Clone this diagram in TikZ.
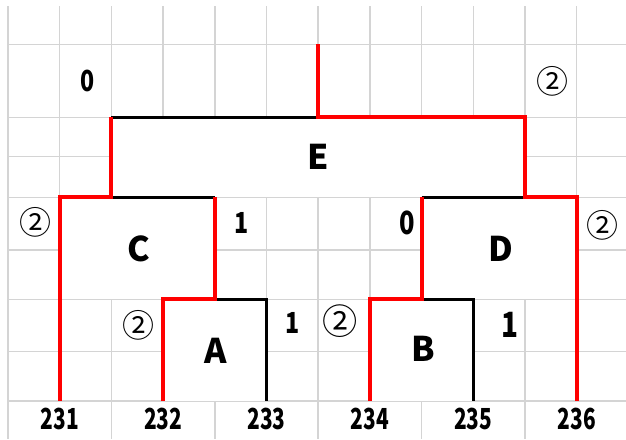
\documentclass[tikz,border=0pt]{standalone}
\usepackage{fontspec}
\setmainfont{Noto Sans CJK JP}
\usetikzlibrary{positioning,calc}
\definecolor{gridgray}{RGB}{212,212,212}
\tikzset{
  gridline/.style={draw=gridgray, line width=1.5pt},
  blank/.style={fill=white, draw=none},
  blk/.style={draw=black, line width=3.3pt, line join=miter},
  hot/.style={draw=red, line width=4pt, line join=miter},
  boxname/.style={font=\fontsize{34}{34}\selectfont\bfseries},
  cnt/.style={font=\fontsize{29}{29}\selectfont\bfseries, xscale=0.8},
  circ/.style={font=\fontsize{32}{32}\selectfont},
  leaf/.style={font=\fontsize{29}{29}\selectfont\bfseries, xscale=0.72}
}
\begin{document}
\begin{tikzpicture}[x=1pt, y=-1pt]
    \useasboundingbox (0,0) rectangle (626,439);

    \foreach \i in {0,2,...,10} \draw[gridline] ({8+51.7*\i},6) -- ({8+51.7*\i},439);
    \foreach \i in {1,3,...,11} \draw[gridline] ({8+51.7*\i},6) -- ({8+51.7*\i},401);
    \foreach \y in {44.3,117.3,156.7,197.3,250,299.3,351.7,401} \draw[gridline] (8,\y) -- (626,\y);

    \fill[blank] (111.4,117.3) rectangle (525,197.3);
    \fill[blank] (59.7,197.3) rectangle (214.8,299.3);
    \fill[blank] (421.6,197.3) rectangle (576.7,299.3);
    \fill[blank] (163.1,299.3) rectangle (266.5,401);
    \fill[blank] (369.9,299.3) rectangle (473.3,401);

    \coordinate (root) at (318.2,44.3);
    \coordinate (e) at (318.2,117.3);
    \coordinate (eL) at (111.4,117.3);
    \coordinate (eR) at (525,117.3);
    \coordinate (cL) at (59.7,197.3);
    \coordinate (cJ) at (111.4,197.3);
    \coordinate (cR) at (214.8,197.3);
    \coordinate (dL) at (421.6,197.3);
    \coordinate (dJ) at (525,197.3);
    \coordinate (dR) at (576.7,197.3);
    \coordinate (aL) at (163.1,299.3);
    \coordinate (aJ) at (214.8,299.3);
    \coordinate (aR) at (266.5,299.3);
    \coordinate (bL) at (369.9,299.3);
    \coordinate (bJ) at (421.6,299.3);
    \coordinate (bR) at (473.3,299.3);
    \coordinate (floor) at (0,401);

    \node[leaf] (l231) at (59.7,418.5) {231};
    \node[leaf] (l232) at (163.1,418.5) {232};
    \node[leaf] (l233) at (266.5,418.5) {233};
    \node[leaf] (l234) at (369.9,418.5) {234};
    \node[leaf] (l235) at (473.3,418.5) {235};
    \node[leaf] (l236) at (576.7,418.5) {236};

    \draw[blk] (eL) -- (e);
    \draw[blk] (cJ) -- (cR);
    \draw[blk] (aJ) -- (aR) -- (l233 |- floor);
    \draw[blk] (dL) -- (dJ);
    \draw[blk] (bJ) -- (bR) -- (l235 |- floor);

    \draw[hot] (root) -- (e) -- (eR) -- (dJ) -- (dR) -- (l236 |- floor);
    \draw[hot] (eL) -- (cJ) -- (cL) -- (l231 |- floor);
    \draw[hot] (cR) -- (aJ) -- (aL) -- (l232 |- floor);
    \draw[hot] (dL) -- (bJ) -- (bL) -- (l234 |- floor);

    \node[boxname] (boxE) at (318,157) {E};
    \node[boxname] (boxC) at (138.5,249) {C};
    \node[boxname] (boxD) at (501,249) {D};
    \node[boxname] (boxA) at (215.5,350.5) {A};
    \node[boxname] (boxB) at (423.5,349) {B};

    \node[cnt] (eLeft) at (88,81) {0};
    \node[circ] (eRight) at (552.5,81.5) {②};
    \node[circ] (cLeft) at (35,222.5) {②};
    \node[cnt] (cRight) at (242,222.5) {1};
    \node[cnt, scale=1.1] (dLeft) at (407,223) {0};
    \node[circ] (dRight) at (602.5,225) {②};
    \node[circ] (aLeft) at (138,325) {②};
    \node[cnt] (aRight) at (293,322.5) {1};
    \node[circ, scale=1.1] (bLeft) at (340,321) {②};
    \node[cnt, scale=1.2] (bRight) at (510,325) {1};
\end{tikzpicture}
\end{document}
